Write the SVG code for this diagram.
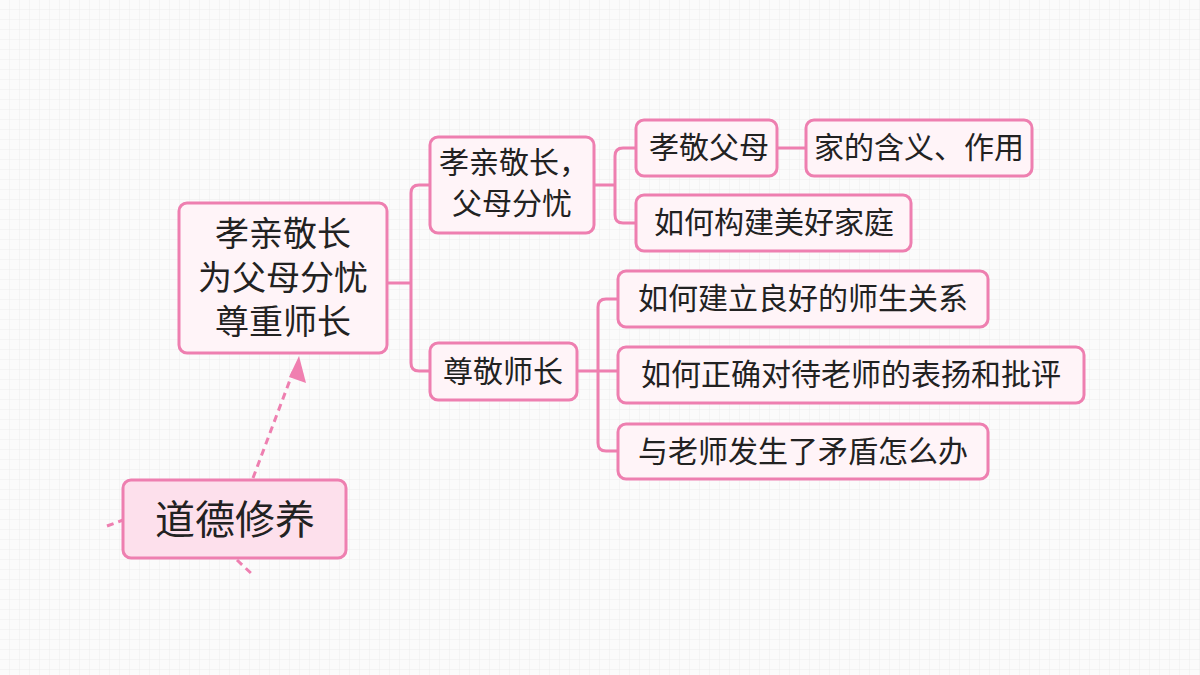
<svg xmlns="http://www.w3.org/2000/svg" width="1200" height="675" viewBox="0 0 1200 675">
<defs>
<pattern id="g" width="10" height="10" patternUnits="userSpaceOnUse"><path d="M10 0V10H0" fill="none" stroke="#ececec" stroke-width="1"/></pattern>
<style>
.n{fill:#fff4f8;stroke:#ee7fb0;stroke-width:3}
.t{font-family:"Noto Sans CJK SC",sans-serif;fill:#222;text-anchor:middle}
.c{fill:none;stroke:#ee7fb0;stroke-width:3}
.d{fill:none;stroke:#ee7fb0;stroke-width:3;stroke-dasharray:7 5}
</style>
</defs>
<rect width="1200" height="675" fill="#fbfbfb"/>
<rect width="1200" height="675" fill="url(#g)"/>
<g id="connectors">
<path class="c" d="M387 283H411M430 185H419Q411 185 411 193V363Q411 371 419 371H430"/>
<path class="c" d="M594 185H615M636 148H623Q615 148 615 156V215Q615 223 623 223H636"/>
<path class="c" d="M777 148H806"/>
<path class="c" d="M577 371H618M618 299H606Q598 299 598 307V443Q598 451 606 451H618"/>
<path class="d" d="M253 478L293 372"/>
<path d="M299 356L306 383L289 377z" fill="#f07fb0"/>
<path class="d" d="M107 526L123 520"/>
<path class="d" d="M237 560L254 576"/>
</g>
<g id="root"><rect class="n" x="179" y="203" width="208" height="150" rx="8"/>
<text class="t" font-size="34"><tspan x="283" y="246">孝亲敬长</tspan><tspan x="283" y="290">为父母分忧</tspan><tspan x="283" y="334">尊重师长</tspan></text></g>
<g id="moral"><rect class="n" x="123" y="480" width="223" height="78" rx="8" style="fill:#fde0ec"/>
<text class="t" x="235" y="534" font-size="40">道德修养</text></g>
<g id="b1"><rect class="n" x="430" y="137" width="164" height="96" rx="8"/>
<text class="t" font-size="30"><tspan x="514" y="173">孝亲敬长，</tspan><tspan x="512" y="214">父母分忧</tspan></text></g>
<g id="b2"><rect class="n" x="430" y="343" width="147" height="57" rx="8"/>
<text class="t" x="503" y="382" font-size="30">尊敬师长</text></g>
<g id="n1"><rect class="n" x="636" y="120" width="141" height="56" rx="8"/>
<text class="t" x="709" y="158" font-size="30">孝敬父母</text></g>
<g id="n2"><rect class="n" x="806" y="120" width="226" height="56" rx="8"/>
<text class="t" x="919" y="158" font-size="30">家的含义、作用</text></g>
<g id="n3"><rect class="n" x="636" y="195" width="275" height="56" rx="8"/>
<text class="t" x="774" y="233" font-size="30">如何构建美好家庭</text></g>
<g id="n4"><rect class="n" x="618" y="271" width="370" height="56" rx="8"/>
<text class="t" x="803" y="309" font-size="30">如何建立良好的师生关系</text></g>
<g id="n5"><rect class="n" x="618" y="347" width="466" height="56" rx="8"/>
<text class="t" x="851" y="385" font-size="30">如何正确对待老师的表扬和批评</text></g>
<g id="n6"><rect class="n" x="618" y="424" width="370" height="55" rx="8"/>
<text class="t" x="803" y="462" font-size="30">与老师发生了矛盾怎么办</text></g>
</svg>
